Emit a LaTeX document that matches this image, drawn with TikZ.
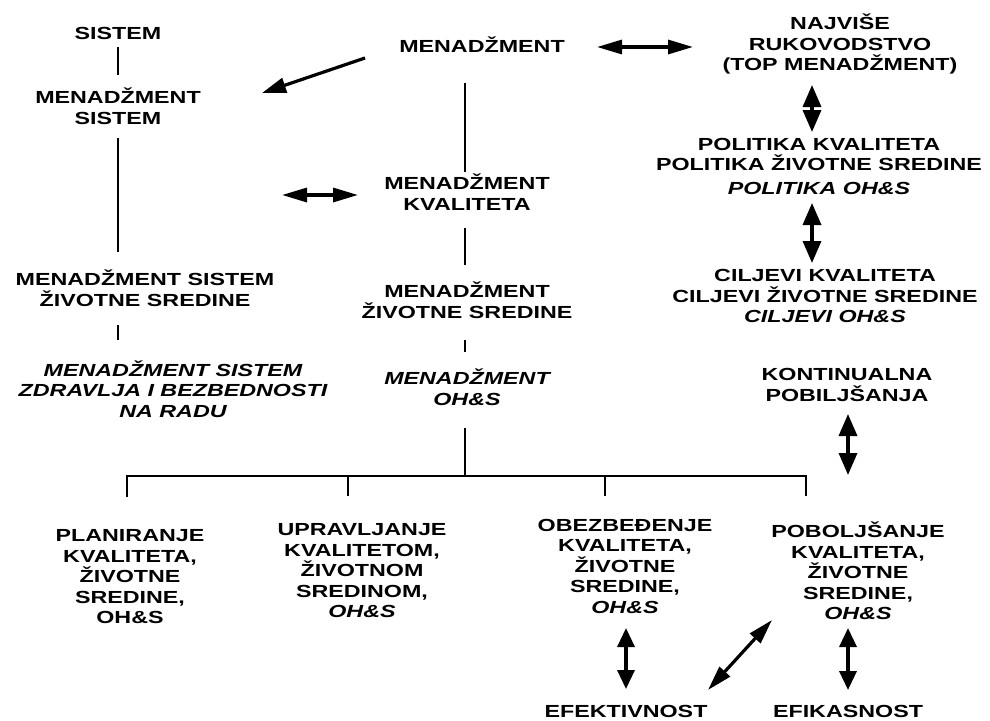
\documentclass[tikz,border=0pt]{standalone}
\usepackage{fontspec}
\newfontfamily\dfont{Liberation Sans}[FakeStretch=1.33]
\usetikzlibrary{arrows.meta,calc}
\tikzset{
  lbl/.style={font=\dfont\bfseries\fontsize{17.5}{20.5}\selectfont, align=center, inner sep=0pt},
  lbli/.style={lbl, font=\dfont\bfseries\itshape\fontsize{17.5}{20.5}\selectfont},
  lnk/.style={line width=2.6pt},
  brk/.style={line width=2pt},
  hdbl/.style={line width=3.2pt, {Triangle[length=25pt,width=14pt]}-{Triangle[length=25pt,width=14pt]}},
  vdbl/.style={line width=3.4pt, {Triangle[length=22pt,width=18pt]}-{Triangle[length=22pt,width=18pt]}},
  sdbl/.style={line width=3.4pt, {Triangle[length=19pt,width=17pt]}-{Triangle[length=19pt,width=17pt]}},
  one/.style={line width=3.2pt, -{Triangle[length=24pt,width=15pt]}}
}
\begin{document}
\begin{tikzpicture}[x=1pt,y=-1pt]
\useasboundingbox (0,0) rectangle (990,720);
% left column
\node[lbl] (sis) at (118,33) {SISTEM};
\node[lbl] (msis) at (118,106) {MENADŽMENT\\SISTEM};
\node[lbl] (mszs) at (145,288) {MENADŽMENT SISTEM\\ŽIVOTNE SREDINE};
\node[lbli] (mszb) at (173,389) {MENADŽMENT SISTEM\\ZDRAVLJA I BEZBEDNOSTI\\NA RADU};
% middle column
\node[lbl] (men) at (482,45) {MENADŽMENT};
\node[lbl] (mkv) at (467,192) {MENADŽMENT\\KVALITETA};
\node[lbl] (mzs) at (467,300) {MENADŽMENT\\ŽIVOTNE SREDINE};
\node[lbli] (moh) at (467,387) {MENADŽMENT\\OH\&S};
% right column
\node[lbl] (top) at (840,44) {NAJVIŠE\\RUKOVODSTVO\\(TOP MENADŽMENT)};
\node[lbl] (pol) at (819,166) {POLITIKA KVALITETA\\POLITIKA ŽIVOTNE SREDINE\\[3pt]{\itshape POLITIKA OH\&S}};
\node[lbl] (cil) at (825,296) {CILJEVI KVALITETA\\CILJEVI ŽIVOTNE SREDINE\\{\itshape CILJEVI OH\&S}};
\node[lbl] (kon) at (847,385) {KONTINUALNA\\POBILJŠANJA};
% bottom row
\node[lbl] (pla) at (130,577) {PLANIRANJE\\KVALITETA,\\ŽIVOTNE\\SREDINE,\\OH\&S};
\node[lbl] (upr) at (362,571) {UPRAVLJANJE\\KVALITETOM,\\ŽIVOTNOM\\SREDINOM,\\{\itshape OH\&S}};
\node[lbl] (obe) at (625,566) {OBEZBEĐENJE\\KVALITETA,\\ŽIVOTNE\\SREDINE,\\{\itshape OH\&S}};
\node[lbl] (pob) at (858,571) {POBOLJŠANJE\\KVALITETA,\\ŽIVOTNE\\SREDINE,\\{\itshape OH\&S}};
\node[lbl] (efe) at (626,711) {EFEKTIVNOST};
\node[lbl] (efi) at (848,711) {EFIKASNOST};

% plain links
\draw[lnk] ($(sis)+(0,14)$) -- ($(msis)+(0,-31)$);
\draw[lnk] ($(msis)+(0,32)$) -- ($(mszs)+(-27,-36)$);
\draw[lnk] ($(mszs)+(-27,37)$) -- ($(mszb)+(-55,-49)$);
\draw[lnk] ($(men)+(-17,38)$) -- ($(mkv)+(-2,-20)$);
\draw[lnk] ($(mkv)+(-2,36)$) -- ($(mzs)+(-2,-35)$);
\draw[lnk] ($(mzs)+(-2,40)$) -- ($(moh)+(-2,-35)$);
\coordinate (bj) at ($(moh)+(-2,89)$);
\draw[lnk] ($(moh)+(-2,41)$) -- (bj);
% bracket over the four activities
\draw[brk] ($(pla)+(-3,-80)$) |- ($(pob)+(-52,-95)$) -- ($(pob)+(-52,-75)$);
\draw[brk] ($(upr)+(-14,-75)$) -- ($(upr)+(-14,-95)$);
\draw[brk] ($(obe)+(-20,-70)$) -- ($(obe)+(-20,-90)$);

% arrows
\draw[one] ($(men)+(-117,13)$) -- ($(msis)+(144,-13)$);
\draw[hdbl] ($(men)+(115,2)$) -- ($(top)+(-147,3)$);
\draw[hdbl] ($(mkv)+(-109,3)$) -- ($(msis)+(164,89)$);
\draw[vdbl] ($(top)+(-28,41)$) -- ($(pol)+(-7,-34)$);
\draw[vdbl] ($(pol)+(-7,37)$) -- ($(cil)+(-13,-33)$);
\draw[vdbl] ($(kon)+(1,29)$) -- ($(pob)+(-10,-96)$);
\draw[sdbl] ($(obe)+(1,62)$) -- ($(efe)+(0,-22)$);
\draw[hdbl] ($(pob)+(-86,49)$) -- ($(efe)+(82,-21)$);
\draw[sdbl] ($(pob)+(-10,57)$) -- ($(efi)+(0,-21)$);
\end{tikzpicture}
\end{document}
